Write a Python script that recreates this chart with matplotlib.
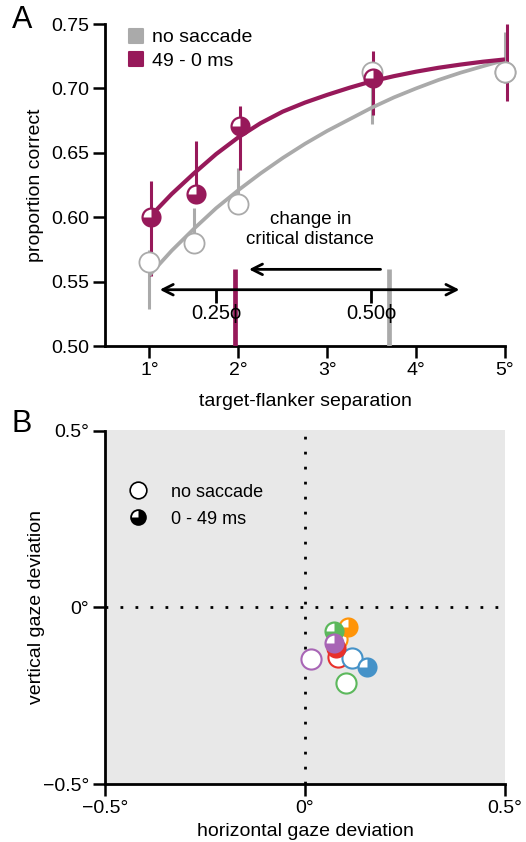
import matplotlib
matplotlib.use('Agg')
import matplotlib.pyplot as plt
from matplotlib.lines import Line2D
from matplotlib.markers import MarkerStyle
from matplotlib.path import Path

plt.rcParams['font.family'] = ['Liberation Sans', 'DejaVu Sans']

# ---- panel A: crowding vs target-flanker separation
sep = [1.0, 1.5, 2.0, 3.5, 5.0]
pc_nosac = [0.565, 0.580, 0.610, 0.713, 0.713]
nosac_lo = [0.5285, 0.575, 0.605, 0.672, 0.704]
nosac_hi = [0.5745, 0.607, 0.6385, 0.718, 0.744]
pc_sac = [0.600, 0.618, 0.671, 0.708, 0.713]
sac_lo = [0.554, 0.612, 0.6366, 0.679, 0.690]
sac_hi = [0.628, 0.659, 0.6866, 0.729, 0.750]

# fitted curves
fit_x = [1.0, 1.25, 1.5, 1.75, 2.0, 2.25, 2.5, 2.75, 3.0, 3.25, 3.5, 3.75, 4.0, 4.25, 4.5, 4.75, 5.0]
fit_nosac = [0.555, 0.574, 0.591, 0.607, 0.621, 0.634, 0.646, 0.657, 0.667, 0.676, 0.685,
             0.693, 0.700, 0.7065, 0.7122, 0.7172, 0.722]
fit_sac = [0.600, 0.618, 0.634, 0.649, 0.662, 0.673, 0.682, 0.689, 0.695, 0.7005, 0.7055,
           0.7095, 0.713, 0.716, 0.7185, 0.7207, 0.7225]

crit_nosac = 3.693
crit_sac = 1.963
phi_span = [1.116, 4.487]
phi_ticks = [1.753, 3.494]
phi_labels = ['0.25\u03d5', '0.50\u03d5']

# ---- panel B: mean gaze deviation per observer
obs_colors = ['#a865b5', '#5cb85c', '#e8302a', '#ff9408', '#4592c8']
gx_nosac = [0.015, 0.1025, 0.082, 0.080, 0.1175]
gy_nosac = [-0.147, -0.214, -0.139, -0.090, -0.144]
gx_sac = [0.072, 0.072, 0.0775, 0.107, 0.156]
gy_sac = [-0.101, -0.066, -0.1156, -0.056, -0.168]

MAG = '#97195a'
GRY = '#aaaaaa'
wedge = Path.wedge(90, 180)
MS = 14.5

fig = plt.figure(figsize=(5.26, 8.42), dpi=100)
axA = fig.add_axes([105 / 526, 1 - 346 / 842, 400 / 526, 322 / 842])
axB = fig.add_axes([105 / 526, 1 - 784.3 / 842, 400 / 526, 353.8 / 842])

for ax in (axA, axB):
    for s in ('top', 'right'):
        ax.spines[s].set_visible(False)
    for s in ('left', 'bottom'):
        ax.spines[s].set_linewidth(2)
    ax.tick_params(width=1.8, length=8.5, labelsize=14, pad=3)

# error bars
xs_sac = [x + 0.02 for x in sep]
axA.vlines(sep, nosac_lo, nosac_hi, color=GRY, lw=2.2, zorder=2, clip_on=False)
axA.vlines(xs_sac, sac_lo, sac_hi, color=MAG, lw=2.2, zorder=2, clip_on=False)
# fits
axA.plot(fit_x, fit_nosac, color=GRY, lw=2.7, zorder=3, solid_capstyle='butt')
axA.plot(fit_x, fit_sac, color=MAG, lw=3, zorder=5, solid_capstyle='butt')
# points
axA.plot(sep, pc_nosac, 'o', ms=MS, mfc='white', mec=GRY, mew=1.3, zorder=4, clip_on=False)
axA.plot(xs_sac[:4], pc_sac[:4], 'o', ms=MS, color=MAG, mew=0, zorder=6)
axA.plot(xs_sac[:4], pc_sac[:4], ls='none', marker=wedge, ms=MS * 0.78, color='white', mew=0, zorder=7)
axA.plot(sep[4:], pc_nosac[4:], 'o', ms=MS, mfc='white', mec=GRY, mew=1.3, zorder=8, clip_on=False)

# critical distance markers
axA.vlines([crit_sac], 0.5, 0.5595, color=MAG, lw=3.4, zorder=3)
axA.vlines([crit_nosac], 0.5, 0.5595, color=GRY, lw=3.4, zorder=3)
axA.annotate('', xy=(2.12, 0.5595), xytext=(3.6, 0.5595),
             arrowprops=dict(arrowstyle='->,head_length=0.75,head_width=0.38', lw=2, color='black',
                             shrinkA=0, shrinkB=0))
axA.annotate('', xy=(phi_span[0], 0.5437), xytext=(phi_span[1], 0.5437),
             arrowprops=dict(arrowstyle='<->,head_length=0.75,head_width=0.38', lw=2, color='black',
                             shrinkA=0, shrinkB=0))
axA.vlines(phi_ticks, 0.5335, 0.5437, color='black', lw=2)
for xp, lab in zip(phi_ticks, phi_labels):
    axA.text(xp, 0.5255, lab, ha='center', va='center', fontsize=14.5)
axA.text(2.81, 0.5905, 'change in\ncritical distance', ha='center', va='center', fontsize=13.5,
         linespacing=1.25)

axA.set_xlim(0.5, 5)
axA.set_ylim(0.5, 0.75)
axA.set_xticks([1, 2, 3, 4, 5])
axA.set_xticklabels(['1\u00b0', '2\u00b0', '3\u00b0', '4\u00b0', '5\u00b0'])
axA.set_yticks([0.50, 0.55, 0.60, 0.65, 0.70, 0.75])
axA.set_yticklabels(['0.50', '0.55', '0.60', '0.65', '0.70', '0.75'])
axA.set_xlabel('target-flanker separation', fontsize=14)
axA.set_ylabel('proportion correct', fontsize=14)
axA.xaxis.set_label_coords(0.5, -0.147)
axA.yaxis.set_label_coords(-0.153, 0.5)

sq = MarkerStyle('s', joinstyle='round')
hA = [Line2D([], [], ls='none', marker=sq, ms=10.5, mew=1.5, color=GRY),
      Line2D([], [], ls='none', marker=sq, ms=10.5, mew=1.5, color=MAG)]
axA.legend(hA, ['no saccade', '49 - 0 ms'], loc='upper left', bbox_to_anchor=(0.059, 0.985),
           frameon=False, fontsize=14, handlelength=0.8, handletextpad=0.4,
           labelspacing=0.32, borderaxespad=0, borderpad=0)

# ---- panel B
axB.set_facecolor('#e8e8e8')
axB.axhline(0, color='black', lw=2, ls=(0, (1, 4.4)), zorder=1)
axB.axvline(0, color='black', lw=2, ls=(0, (1, 4.4)), zorder=1)
for i in range(len(gx_nosac)):
    axB.plot(gx_nosac[i], gy_nosac[i], 'o', ms=MS, mfc='white', mec=obs_colors[i], mew=1.5, zorder=3)
for j, i in enumerate([3, 2, 4, 1, 0]):
    axB.plot(gx_sac[i], gy_sac[i], 'o', ms=MS, color=obs_colors[i], mew=0, zorder=4 + j)
    axB.plot(gx_sac[i], gy_sac[i], ls='none', marker=wedge, ms=MS * 0.78, color='white', mew=0,
             zorder=4 + j)

axB.set_xlim(-0.5, 0.5)
axB.set_ylim(-0.5, 0.5)
axB.set_xticks([-0.5, 0, 0.5])
axB.set_xticklabels(['\u22120.5\u00b0', '0\u00b0', '0.5\u00b0'])
axB.set_yticks([-0.5, 0, 0.5])
axB.set_yticklabels(['\u22120.5\u00b0', '0\u00b0', '0.5\u00b0'])
axB.set_xlabel('horizontal gaze deviation', fontsize=14)
axB.set_ylabel('vertical gaze deviation', fontsize=14)
axB.xaxis.set_label_coords(0.5, -0.11)
axB.yaxis.set_label_coords(-0.15, 0.5)

hB = [Line2D([], [], ls='none', marker='o', ms=12, mfc='white', mec='black', mew=1.2),
      (Line2D([], [], ls='none', marker='o', ms=12, color='black', mew=0),
       Line2D([], [], ls='none', marker=wedge, ms=12 * 0.78, color='white', mew=0))]
axB.legend(hB, ['no saccade', '0 - 49 ms'], loc='upper left', bbox_to_anchor=(0.06, 0.85),
           frameon=False, fontsize=13, handlelength=1.0, handletextpad=1.3,
           labelspacing=0.55, borderaxespad=0, borderpad=0)

fig.text(22 / 526, 1 - 20 / 842, 'A', fontsize=22, ha='center', va='center')
fig.text(22 / 526, 1 - 424 / 842, 'B', fontsize=22, ha='center', va='center')

fig.savefig('out.png', dpi=100)
